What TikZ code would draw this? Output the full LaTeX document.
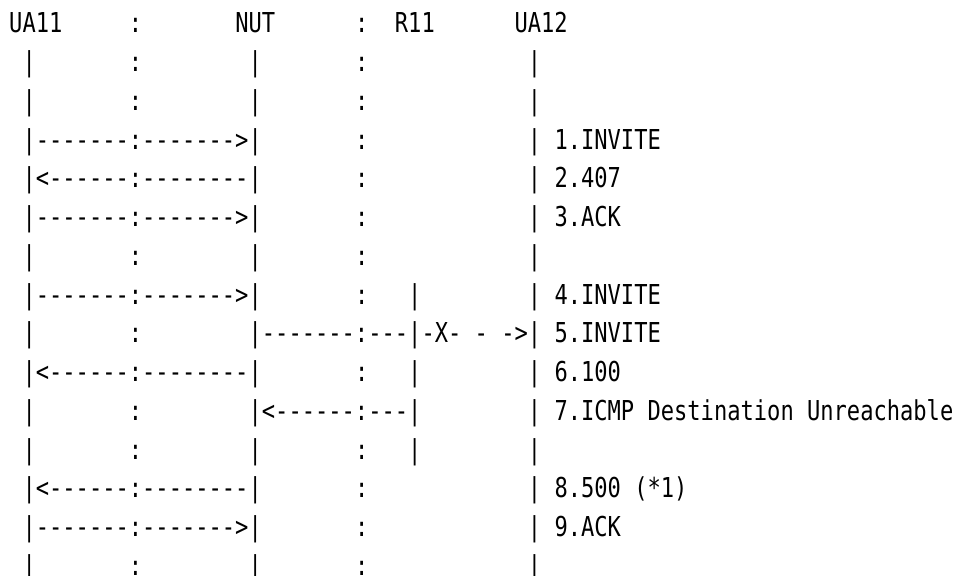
\documentclass[tikz,border=0pt]{standalone}
\usepackage{fontspec}
\usepackage{tikz}
\newfontfamily\asciifont[FakeStretch=0.806,Ligatures=TeXOff]{DejaVu Sans Mono}

\begin{document}
\begin{tikzpicture}[
  x=13.3pt, y=-38.75pt,
  ascii/.style = {font=\asciifont\fontsize{27.4}{30}\selectfont,
                  inner sep=0pt, anchor=base west},
]
\useasboundingbox (-0.68,-0.85) rectangle (71.28,14.01);
% header row
\node[ascii] (UA11) at (0,0)  {UA11};
\node[ascii] (NUT)  at (17,0) {NUT};
\node[ascii] (R11)  at (29,0) {R11};
\node[ascii] (UA12) at (38,0) {UA12};
% lifelines, one bar per text row
\foreach \r in {1,...,14} {
  \node[ascii] (ua11-\r) at (1,\r)  {|};
  \node[ascii] (nut-\r)  at (18,\r) {|};
  \node[ascii] (ua12-\r) at (39,\r) {|};
}
\foreach \r in {7,...,11}
  \node[ascii] (r11-\r) at (30,\r) {|};
% column dots, left out where a message already crosses them
\foreach \r in {0,1,2,6,8,10,11,14}
  \node[ascii] (dotA-\r) at (9,\r) {:};
\foreach \r in {0,...,7,9,11,12,13,14}
  \node[ascii] (dotB-\r) at (26,\r) {:};
% messages
\foreach \r/\c/\msg in {
  3/2/{-------:------->},
  4/2/{<------:--------},
  5/2/{-------:------->},
  7/2/{-------:------->},
  8/19/{-------:---},
  8/31/{-X- - ->},
  9/2/{<------:--------},
  10/19/{<------:---},
  12/2/{<------:--------},
  13/2/{-------:------->}}
  \node[ascii] (msg-\r-\c) at (\c,\r) {\msg};
% step labels
\foreach \r/\lbl in {
  3/{1.INVITE}, 4/{2.407}, 5/{3.ACK}, 7/{4.INVITE}, 8/{5.INVITE},
  9/{6.100}, 10/{7.ICMP Destination Unreachable}, 12/{8.500 (*1)},
  13/{9.ACK}}
  \node[ascii] (lbl-\r) at (41,\r) {\lbl};
\end{tikzpicture}
\end{document}
